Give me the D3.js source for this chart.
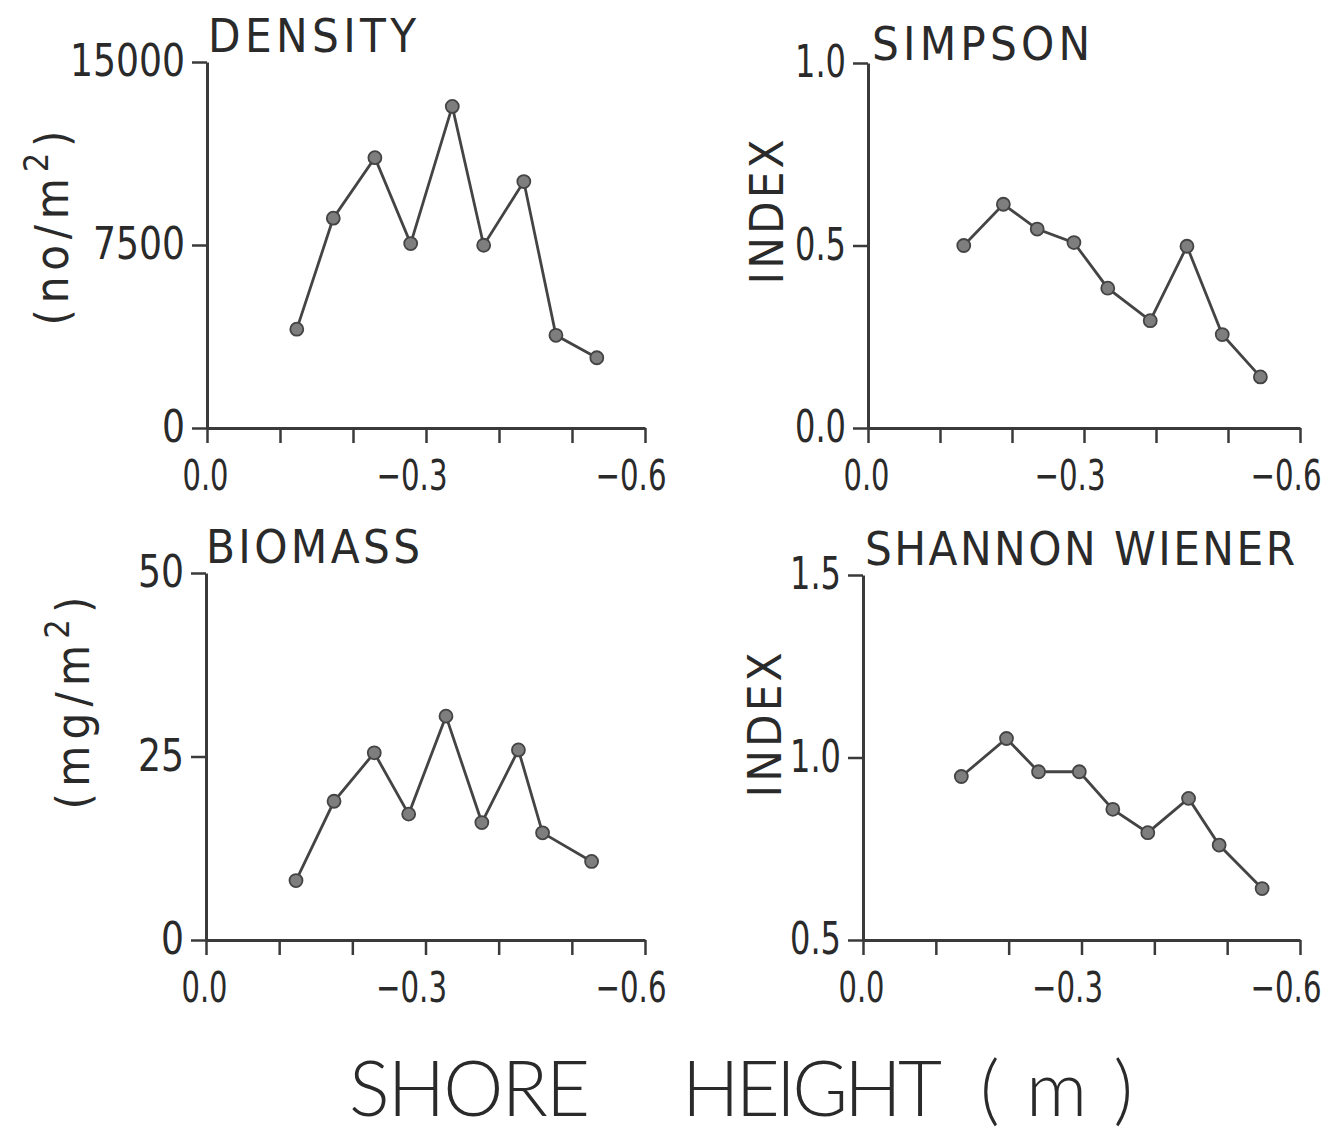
<!DOCTYPE html>
<html>
<head>
<meta charset="utf-8">
<script src="https://cdn.jsdelivr.net/npm/d3@7"></script>
<style>
  body { margin: 0; background: #fff; }
  text { fill: #2a2a2a; }
</style>
</head>
<body>
<script>
// shore height values (m) and readings for each panel
const shoreDensity = [-0.123, -0.173, -0.230, -0.279, -0.336, -0.379, -0.434, -0.478, -0.534]
const density = [4050, 8600, 11080, 7560, 13180, 7490, 10100, 3800, 2880]

const shoreSimpson = [-0.133, -0.188, -0.235, -0.286, -0.333, -0.392, -0.443, -0.492, -0.545]
const simpson = [0.50, 0.613, 0.545, 0.508, 0.383, 0.294, 0.498, 0.256, 0.14]

const shoreBiomass = [-0.123, -0.175, -0.230, -0.277, -0.328, -0.377, -0.427, -0.460, -0.527]
const biomass = [8.1, 18.9, 25.5, 17.15, 30.5, 16.0, 25.9, 14.6, 10.7]

const shoreShannon = [-0.135, -0.197, -0.241, -0.297, -0.343, -0.391, -0.447, -0.489, -0.548]
const shannon = [0.948, 1.052, 0.961, 0.961, 0.858, 0.794, 0.888, 0.760, 0.641]

// ticks
const xTicks = [0, -0.1, -0.2, -0.3, -0.4, -0.5, -0.6]
const xLabelTicks = [0, -0.3, -0.6]
const xLabels = ['0.0', '−0.3', '−0.6']

const densityTicks = [0, 7500, 15000]
const densityLabels = ['0', '7500', '15000']
const simpsonTicks = [0, 0.5, 1.0]
const simpsonLabels = ['0.0', '0.5', '1.0']
const biomassTicks = [0, 25, 50]
const biomassLabels = ['0', '25', '50']
const shannonTicks = [0.5, 1.0, 1.5]
const shannonLabels = ['0.5', '1.0', '1.5']

const w = 1329
const h = 1132
const narrow = "'Liberation Sans Narrow', 'DejaVu Sans Condensed', 'Arial Narrow', sans-serif"
const ink = '#3a3a3a'

// width the old lettering takes for a label (narrow, tall digits)
const labelWidth = (s, digit, dot, minus) => {
     let wd = 0
     for (const c of s) wd += c === '.' ? dot : (c === '−' ? minus : digit)
     return wd
}

// squeeze a tick label horizontally so it has the given width, end at anchorX
function squeeze(sel, widthFn, anchorX) {
     sel.each(function () {
          const nat = this.getComputedTextLength()
          if (!nat) return
          const sx = widthFn(this.textContent) / nat
          d3.select(this)
               .attr('transform', 'scale(' + sx + ',1)')
               .attr('x', anchorX / sx)
     })
}

const svg = d3.select('body')
     .append('svg')
     .attr('width', w)
     .attr('height', h)

svg.append('rect').attr('width', w).attr('height', h).attr('fill', '#fff')

const panels = [
     { title: 'DENSITY', titleX: 208, titleY: 52, titleLen: 208,
       yTitle: ['(no/m', '2', ')'], yTitleX: 68, yTitleY: 228, yTitleLen: 195,
       x0: 207, x1: 645, yTop: 62, yBot: 428,
       xs: shoreDensity, ys: density, ticks: densityTicks, labels: densityLabels },
     { title: 'SIMPSON', titleX: 872, titleY: 60, titleLen: 218,
       yTitle: ['INDEX'], yTitleX: 783, yTitleY: 212, yTitleLen: 145,
       x0: 868, x1: 1300, yTop: 63, yBot: 428,
       xs: shoreSimpson, ys: simpson, ticks: simpsonTicks, labels: simpsonLabels },
     { title: 'BIOMASS', titleX: 206, titleY: 563, titleLen: 214,
       yTitle: ['(mg/m', '2', ')'], yTitleX: 89, yTitleY: 703, yTitleLen: 213,
       x0: 206, x1: 645, yTop: 573, yBot: 940,
       xs: shoreBiomass, ys: biomass, ticks: biomassTicks, labels: biomassLabels },
     { title: 'SHANNON WIENER', titleX: 865, titleY: 565, titleLen: 430,
       yTitle: ['INDEX'], yTitleX: 781, yTitleY: 725, yTitleLen: 145,
       x0: 863, x1: 1300, yTop: 575, yBot: 940,
       xs: shoreShannon, ys: shannon, ticks: shannonTicks, labels: shannonLabels }
]

panels.forEach(p => {
     const g = svg.append('g')

     const xScale = d3.scaleLinear()
          .domain([0, -0.6])
          .range([p.x0, p.x1])
     const yScale = d3.scaleLinear()
          .domain([p.ticks[0], p.ticks[2]])
          .range([p.yBot, p.yTop])

     const xAxis = d3.axisBottom(xScale)
          .tickValues(xTicks)
          .tickSizeInner(15)
          .tickSizeOuter(0)
          .tickPadding(17)
          .tickFormat(d => {
               const i = xLabelTicks.findIndex(v => Math.abs(v - d) < 1e-9)
               return i < 0 ? '' : xLabels[i]
          })
     const yAxis = d3.axisLeft(yScale)
          .tickValues(p.ticks)
          .tickSizeInner(15)
          .tickSizeOuter(0)
          .tickPadding(7)
          .tickFormat((d, i) => p.labels[i])

     const gx = g.append('g')
          .attr('transform', 'translate(0,' + p.yBot + ')')
          .call(xAxis)
     const gy = g.append('g')
          .attr('transform', 'translate(' + p.x0 + ',0)')
          .call(yAxis)

     ;[gx, gy].forEach(a => {
          a.select('.domain').attr('stroke', ink).attr('stroke-width', 3)
          a.selectAll('.tick line').attr('stroke', ink).attr('stroke-width', 2.5)
          a.selectAll('.tick text').attr('fill', '#2a2a2a').attr('font-family', narrow)
     })
     // numeric part centred on the tick, minus sign hangs to the left
     const xt = gx.selectAll('.tick text')
          .filter(function () { return this.textContent !== '' })
          .attr('font-size', 42)
          .attr('text-anchor', 'end')
     squeeze(xt, s => labelWidth(s, 20, 6, 25), 21)
     const ytx = gy.selectAll('.tick text')
          .attr('font-size', 45)
          .attr('dy', '0.3em')
     squeeze(ytx, s => labelWidth(s, 23, 5, 0), -22)

     // title
     g.append('text')
          .attr('x', p.titleX)
          .attr('y', p.titleY)
          .attr('font-family', narrow)
          .attr('font-size', 47)
          .attr('textLength', p.titleLen)
          .attr('lengthAdjust', 'spacing')
          .text(p.title)

     // y title, rotated
     const yt = g.append('text')
          .attr('transform', 'translate(' + p.yTitleX + ',' + p.yTitleY + ') rotate(-90)')
          .attr('text-anchor', 'middle')
          .attr('font-family', narrow)
          .attr('font-size', 47)
          .attr('textLength', p.yTitleLen)
          .attr('lengthAdjust', 'spacing')
     if (p.yTitle.length === 1) {
          yt.text(p.yTitle[0])
     } else {
          yt.append('tspan').text(p.yTitle[0])
          yt.append('tspan').attr('font-size', 34).attr('dy', -20).text(p.yTitle[1])
          yt.append('tspan').attr('dy', 20).text(p.yTitle[2])
     }

     // series
     const pts = p.xs.map((x, i) => [x, p.ys[i]])
     const line = d3.line()
          .x(d => xScale(d[0]))
          .y(d => yScale(d[1]))
     g.append('path')
          .datum(pts)
          .attr('d', line)
          .attr('fill', 'none')
          .attr('stroke', '#444')
          .attr('stroke-width', 2.8)
     g.selectAll('circle')
          .data(pts)
          .enter()
          .append('circle')
          .attr('cx', d => xScale(d[0]))
          .attr('cy', d => yScale(d[1]))
          .attr('r', 6.5)
          .attr('fill', '#7e7e7e')
          .attr('stroke', '#444')
          .attr('stroke-width', 1.8)
})

// shared x title
const bigFont = "Lato, 'Open Sans', 'DejaVu Sans', sans-serif"
const xTitleParts = [['SHORE', 349, 241], ['HEIGHT', 682, 260], ['( m )', 980, 153]]
xTitleParts.forEach(t => {
     svg.append('text')
          .attr('x', t[1])
          .attr('y', 1116)
          .attr('font-family', bigFont)
          .attr('font-weight', 300)
          .attr('font-size', 76)
          .attr('textLength', t[2])
          .attr('lengthAdjust', 'spacing')
          .text(t[0])
})
</script>
</body>
</html>
